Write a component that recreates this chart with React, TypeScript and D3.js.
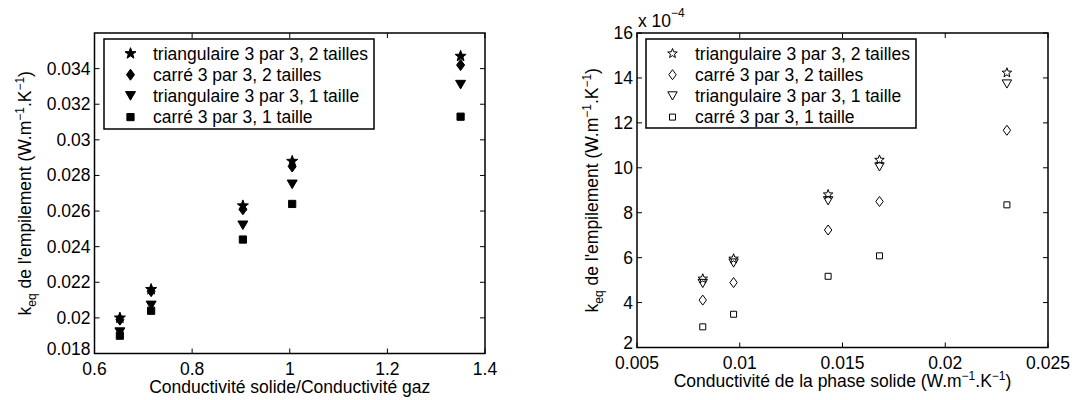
import React from "react";
import * as d3 from "d3";

// ---------- data ----------
const seriesNames = [
  "triangulaire 3 par 3, 2 tailles",
  "carré 3 par 3, 2 tailles",
  "triangulaire 3 par 3, 1 taille",
  "carré 3 par 3, 1 taille",
];
const markerKinds = ["star", "diamond", "triangle", "square"];

// left plot: ratio solid/gas conductivity
const xLeft = [0.652, 0.716, 0.904, 1.005, 1.35];
const leftStar = [0.02, 0.0216, 0.0263, 0.0288, 0.0347];
const leftDiamond = [0.0199, 0.0215, 0.0261, 0.0285, 0.0342];
const leftTriangle = [0.0192, 0.0207, 0.0252, 0.0275, 0.0331];
const leftSquare = [0.019, 0.0204, 0.0244, 0.0264, 0.0313];
const leftXTicks = [0.6, 0.8, 1.0, 1.2, 1.4];
const leftXTickLabels = ["0.6", "0.8", "1", "1.2", "1.4"];
const leftYTicks = [0.018, 0.02, 0.022, 0.024, 0.026, 0.028, 0.03, 0.032, 0.034];
const leftYTickLabels = ["0.018", "0.02", "0.022", "0.024", "0.026", "0.028", "0.03", "0.032", "0.034"];

// right plot: solid conductivity (values in 1e-4 units)
const xRight = [0.0082, 0.0097, 0.0143, 0.0168, 0.023];
const rightStar = [5.06, 5.95, 8.81, 10.35, 14.23];
const rightDiamond = [4.11, 4.89, 7.23, 8.5, 11.67];
const rightTriangle = [4.85, 5.76, 8.53, 10.04, 13.73];
const rightSquare = [2.92, 3.48, 5.17, 6.08, 8.35];
const rightXTicks = [0.005, 0.01, 0.015, 0.02, 0.025];
const rightXTickLabels = ["0.005", "0.01", "0.015", "0.02", "0.025"];
const rightYTicks = [2, 4, 6, 8, 10, 12, 14, 16];
const rightYTickLabels = ["2", "4", "6", "8", "10", "12", "14", "16"];

const FONT = "'Liberation Sans', Arial, Helvetica, sans-serif";
const FS = 17.5;

// ---------- marker paths (relative to center) ----------
function starPath(R: number, r: number) {
  const p = d3.path();
  for (let i = 0; i < 10; i++) {
    const rad = i % 2 === 0 ? R : r;
    const a = -Math.PI / 2 + (i * Math.PI) / 5;
    const x = rad * Math.cos(a);
    const y = rad * Math.sin(a);
    if (i === 0) p.moveTo(x, y);
    else p.lineTo(x, y);
  }
  p.closePath();
  return p.toString();
}
function diamondPath(w: number, h: number) {
  const p = d3.path();
  p.moveTo(0, -h);
  p.lineTo(w, 0);
  p.lineTo(0, h);
  p.lineTo(-w, 0);
  p.closePath();
  return p.toString();
}
function triPath(w: number, h: number) {
  const p = d3.path();
  p.moveTo(-w, -h);
  p.lineTo(w, -h);
  p.lineTo(0, h);
  p.closePath();
  return p.toString();
}
function squarePath(s: number) {
  const p = d3.path();
  p.rect(-s, -s, 2 * s, 2 * s);
  return p.toString();
}

function markerPath(kind: string, filled: boolean) {
  if (filled) {
    if (kind === "star") return starPath(5.8, 2.4);
    if (kind === "diamond") return diamondPath(4, 5.5);
    if (kind === "triangle") return triPath(5, 4.3);
    return squarePath(3.6);
  } else {
    if (kind === "star") return starPath(5, 2.1);
    if (kind === "diamond") return diamondPath(3.7, 5);
    if (kind === "triangle") return triPath(4.7, 4.1);
    return squarePath(3);
  }
}

type PlotProps = {
  left: number;
  top: number;
  width: number;
  height: number;
  xDomain: [number, number];
  yDomain: [number, number];
  xTicks: number[];
  xTickLabels: string[];
  yTicks: number[];
  yTickLabels: string[];
  xs: number[];
  series: number[][];
  filled: boolean;
  xLabel: React.ReactNode;
  yLabelX: number;
  legend: { x: number; y: number; w: number; h: number };
  exponent?: boolean;
};

function Plot(props: PlotProps) {
  const { left, top, width, height } = props;
  const x = d3.scaleLinear().domain(props.xDomain).range([left, left + width]);
  const y = d3.scaleLinear().domain(props.yDomain).range([top + height, top]);
  const tl = 5;
  const bottom = top + height;
  const right = left + width;
  const lg = props.legend;
  const rowH = 21.2;
  return (
    <g fontFamily={FONT} fontSize={FS} fill="#000">
      {/* ticks */}
      {props.xTicks.map((t, i) => (
        <g key={"xt" + i}>
          <line x1={x(t)} x2={x(t)} y1={bottom} y2={bottom - tl} stroke="#000" strokeWidth={1} />
          <line x1={x(t)} x2={x(t)} y1={top} y2={top + tl} stroke="#000" strokeWidth={1} />
          <text x={x(t)} y={bottom + 21} textAnchor="middle">
            {props.xTickLabels[i]}
          </text>
        </g>
      ))}
      {props.yTicks.map((t, i) => (
        <g key={"yt" + i}>
          <line x1={left} x2={left + tl} y1={y(t)} y2={y(t)} stroke="#000" strokeWidth={1} />
          <line x1={right} x2={right - tl} y1={y(t)} y2={y(t)} stroke="#000" strokeWidth={1} />
          <text x={left - 4} y={y(t) + (i === 0 ? 1.5 : 6)} textAnchor="end">
            {props.yTickLabels[i]}
          </text>
        </g>
      ))}
      {/* axes box */}
      <rect x={left} y={top} width={width} height={height} fill="none" stroke="#000" strokeWidth={1.5} />
      {/* data */}
      {props.series.map((s, si) =>
        s.map((v, i) => (
          <path
            key={"m" + si + "_" + i}
            transform={`translate(${x(props.xs[i])},${y(v)})`}
            d={markerPath(markerKinds[si], props.filled)}
            fill={props.filled ? "#000" : "none"}
            stroke="#000"
            strokeWidth={1}
            strokeLinejoin="miter"
          />
        ))
      )}
      {/* legend */}
      <rect x={lg.x} y={lg.y} width={lg.w} height={lg.h} fill="#fff" stroke="#000" strokeWidth={1.5} />
      {seriesNames.map((n, i) => {
        const cy = lg.y + 14.5 + i * rowH;
        return (
          <g key={"lg" + i}>
            <path
              transform={`translate(${lg.x + 26.5},${cy})`}
              d={markerPath(markerKinds[i], props.filled)}
              fill={props.filled ? "#000" : "none"}
              stroke="#000"
              strokeWidth={1}
            />
            <text x={lg.x + 49} y={cy + 6.3}>
              {n}
            </text>
          </g>
        );
      })}
      {/* x label */}
      <text x={left + width / 2} y={bottom + 39.5} textAnchor="middle">
        {props.xLabel}
      </text>
      {/* y label */}
      <text transform={`translate(${props.yLabelX},${top + height / 2}) rotate(-90)`} textAnchor="middle">
        k<tspan fontSize={12} dy={5}>eq</tspan>
        <tspan dy={-5}> de l'empilement (W.m</tspan>
        <tspan fontSize={12} dy={-7}>−1</tspan>
        <tspan dy={7}>.K</tspan>
        <tspan fontSize={12} dy={-7}>−1</tspan>
        <tspan dy={7}>)</tspan>
      </text>
      {props.exponent && (
        <text x={left + 1} y={top - 6}>
          x 10<tspan fontSize={12} dy={-10}>−4</tspan>
        </text>
      )}
    </g>
  );
}

export default function App() {
  return (
    <svg
      width={1075}
      height={400}
      style={{ position: "absolute", left: 0, top: 0, display: "block", background: "#fff" }}
    >
      <rect x={0} y={0} width={1075} height={400} fill="#fff" />
      <Plot
        left={94.5}
        top={33}
        width={390.5}
        height={320.5}
        xDomain={[0.6, 1.4]}
        yDomain={[0.018, 0.036]}
        xTicks={leftXTicks}
        xTickLabels={leftXTickLabels}
        yTicks={leftYTicks}
        yTickLabels={leftYTickLabels}
        xs={xLeft}
        series={[leftStar, leftDiamond, leftTriangle, leftSquare]}
        filled={true}
        xLabel={"Conductivité solide/Conductivité gaz"}
        yLabelX={31}
        legend={{ x: 104, y: 39, w: 270, h: 90 }}
      />
      <Plot
        left={637}
        top={33}
        width={411}
        height={314.5}
        xDomain={[0.005, 0.025]}
        yDomain={[2, 16]}
        xTicks={rightXTicks}
        xTickLabels={rightXTickLabels}
        yTicks={rightYTicks}
        yTickLabels={rightYTickLabels}
        xs={xRight}
        series={[rightStar, rightDiamond, rightTriangle, rightSquare]}
        filled={false}
        xLabel={
          <>
            Conductivité de la phase solide (W.m<tspan fontSize={12} dy={-7}>−1</tspan>
            <tspan dy={7}>.K</tspan>
            <tspan fontSize={12} dy={-7}>−1</tspan>
            <tspan dy={7}>)</tspan>
          </>
        }
        yLabelX={598}
        legend={{ x: 646, y: 39, w: 270, h: 89 }}
        exponent={true}
      />
    </svg>
  );
}
